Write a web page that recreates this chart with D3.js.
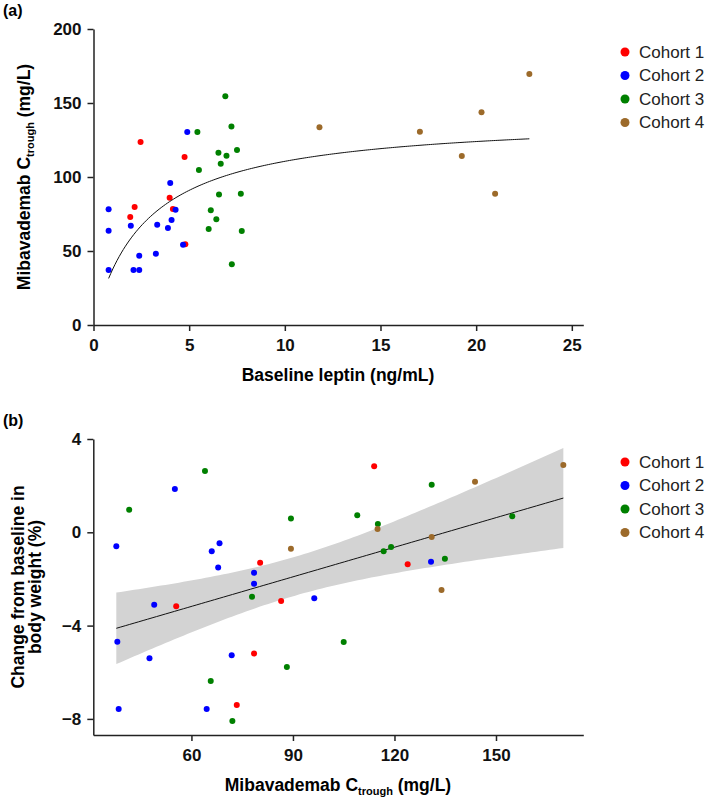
<!DOCTYPE html>
<html>
<head>
<meta charset="utf-8">
<script src="https://cdn.jsdelivr.net/npm/d3@7"></script>
<style>
  body { margin: 0; background: #fff; }
  text { font-family: "Liberation Sans", Arial, sans-serif; }
</style>
</head>
<body>
<div id="chart"></div>
<script>
// ---- data ----
const cohortNames = ["Cohort 1", "Cohort 2", "Cohort 3", "Cohort 4"];
const cohortColors = ["#ff0000", "#0000ff", "#008000", "#9c6a2a"];

// panel (a): baseline leptin (ng/mL) vs Ctrough (mg/L)
const leptinC1 = [2.46, 4.76, 2.15, 1.92, 3.98, 4.15, 4.80];
const ctroughA_C1 = [123.6, 113.5, 79.7, 73.0, 86.0, 78.4, 54.5];
const leptinC2 = [0.79, 0.79, 0.79, 1.95, 2.39, 2.09, 2.39, 3.26, 3.33, 3.89, 4.08, 4.01, 4.29, 4.68, 4.90];
const ctroughA_C2 = [78.2, 63.7, 37.2, 67.1, 46.8, 37.2, 37.2, 48.2, 67.8, 65.5, 70.9, 95.9, 77.9, 54.3, 130.4];
const leptinC3 = [6.89, 5.43, 7.21, 6.53, 6.95, 7.50, 6.65, 5.51, 6.56, 7.70, 6.13, 6.42, 6.02, 7.75, 7.23];
const ctroughA_C3 = [154.5, 130.4, 134.2, 116.4, 114.4, 118.2, 109.0, 104.7, 88.1, 88.7, 77.5, 71.4, 64.9, 63.5, 41.0];
const leptinC4 = [11.81, 17.06, 20.28, 22.78, 19.25, 20.99];
const ctroughA_C4 = [133.6, 130.6, 143.7, 169.6, 114.2, 88.7];

// Emax fit drawn in panel (a)
const emaxFit = { emax: 141, ec50: 2.75 };

// panel (b): Ctrough (mg/L) vs change from baseline in body weight (%)
const ctroughB_C1 = [123.9, 114.0, 80.3, 73.4, 86.5, 78.5, 55.5];
const weightC1 = [-1.37, 2.83, -1.31, -7.40, -2.94, -5.20, -3.17];
const ctroughB_C2 = [55.1, 37.8, 38.1, 38.5, 49.0, 47.6, 66.0, 68.3, 67.9, 71.9, 64.5, 78.5, 78.5, 96.3, 130.8];
const weightC2 = [1.86, -0.60, -4.69, -7.57, -3.11, -5.40, -0.81, -0.47, -1.51, -5.27, -7.57, -1.73, -2.21, -2.83, -1.26];
const ctroughB_C3 = [64.0, 41.6, 77.9, 65.7, 72.1, 89.4, 88.2, 109.0, 115.1, 116.8, 119.0, 131.0, 134.9, 154.8, 105.0];
const weightC3 = [2.63, 0.97, -2.76, -6.37, -8.09, 0.59, -5.77, 0.73, 0.36, -0.81, -0.63, 2.04, -1.13, 0.69, -4.70];
const ctroughB_C4 = [89.4, 115.0, 131.0, 143.8, 133.9, 169.9];
const weightC4 = [-0.71, 0.14, -0.20, 2.17, -2.47, 2.88];

const ticksAx = [0, 5, 10, 15, 20, 25];
const ticksAy = [0, 50, 100, 150, 200];
const ticksBx = [60, 90, 120, 150];
const ticksBy = [-8, -4, 0, 4];

// ---- build ----
const W = 709, H = 803;
const svg = d3.select('#chart').append('svg')
    .attr('width', W)
    .attr('height', H);

const panelA = [
    [leptinC1, ctroughA_C1], [leptinC2, ctroughA_C2],
    [leptinC3, ctroughA_C3], [leptinC4, ctroughA_C4]
];
const panelB = [
    [ctroughB_C1, weightC1], [ctroughB_C2, weightC2],
    [ctroughB_C3, weightC3], [ctroughB_C4, weightC4]
];

function toPoints(pairs) {
    let pts = [];
    pairs.forEach((p, c) => {
        p[0].forEach((x, i) => pts.push({ x: x, y: p[1][i], c: c }));
    });
    return pts;
}

function drawAxes(g, x, y, xt, yt, yBottom, xLeft) {
    const ax = g.append('g')
        .attr('transform', 'translate(0,' + yBottom + ')')
        .call(d3.axisBottom(x).tickValues(xt).tickSize(6).tickSizeOuter(0).tickPadding(8));
    const ay = g.append('g')
        .attr('transform', 'translate(' + xLeft + ',0)')
        .call(d3.axisLeft(y).tickValues(yt).tickSize(6).tickSizeOuter(0).tickPadding(6));
    [ax, ay].forEach(a => {
        a.selectAll('path, line').attr('stroke', '#222').attr('stroke-width', 1.5);
        a.selectAll('text')
            .attr('fill', '#111')
            .attr('font-size', 17)
            .attr('font-weight', 'bold')
            .attr('font-family', '"Liberation Sans", Arial, sans-serif');
    });
}

function drawLegend(g, top) {
    cohortNames.forEach((n, i) => {
        g.append('circle')
            .attr('cx', 625).attr('cy', top + i * 23.5)
            .attr('r', 4.5).attr('fill', cohortColors[i]);
        g.append('text')
            .attr('x', 639).attr('y', top + i * 23.5)
            .attr('dy', '0.35em')
            .attr('font-size', 17)
            .attr('fill', '#222')
            .text(n);
    });
}

function ctroughTitle(t) {
    t.append('tspan').text('Mibavademab C');
    t.append('tspan').attr('font-size', 11).attr('dy', 4).text('trough');
    t.append('tspan').attr('dy', -4).text(' (mg/L)');
}

// ---- panel (a) ----
const xA = d3.scaleLinear().domain([0, 25.6]).range([93.5, 583.3]);
const yA = d3.scaleLinear().domain([0, 200]).range([325, 29]);
const gA = svg.append('g');

gA.append('text').attr('x', 3).attr('y', 16)
    .attr('font-size', 16).attr('font-weight', 'bold').text('(a)');

drawAxes(gA, xA, yA, ticksAx, ticksAy, 325, 93.5);

const ptsA = toPoints(panelA);
gA.selectAll('circle.pt')
    .data(ptsA)
    .enter()
    .append('circle')
    .attr('class', 'pt')
    .attr('cx', d => xA(d.x))
    .attr('cy', d => yA(d.y))
    .attr('r', 3)
    .attr('fill', d => cohortColors[d.c]);

const lepExtent = d3.extent(ptsA, d => d.x);
const curve = d3.range(lepExtent[0], lepExtent[1] + 0.001, (lepExtent[1] - lepExtent[0]) / 200)
    .map(v => [v, emaxFit.emax * v / (emaxFit.ec50 + v)]);
gA.append('path')
    .datum(curve)
    .attr('fill', 'none')
    .attr('stroke', '#111')
    .attr('stroke-width', 1)
    .attr('d', d3.line().x(d => xA(d[0])).y(d => yA(d[1])));

gA.append('text')
    .attr('x', 338).attr('y', 381)
    .attr('text-anchor', 'middle')
    .attr('font-size', 17.5).attr('font-weight', 'bold')
    .text('Baseline leptin (ng/mL)');

const tA = gA.append('text')
    .attr('transform', 'translate(30,177) rotate(-90)')
    .attr('text-anchor', 'middle')
    .attr('font-size', 17.5).attr('font-weight', 'bold');
ctroughTitle(tA);

drawLegend(gA, 52);

// ---- panel (b) ----
const xB = d3.scaleLinear().domain([31, 175.8]).range([93.3, 583.3]);
const yB = d3.scaleLinear().domain([-8.69, 4]).range([735, 439]);
const gB = svg.append('g');

gB.append('text').attr('x', 3).attr('y', 426)
    .attr('font-size', 16).attr('font-weight', 'bold').text('(b)');

const ptsB = toPoints(panelB);

// least-squares fit with 95% confidence band
const n = ptsB.length;
const mx = d3.mean(ptsB, d => d.x), my = d3.mean(ptsB, d => d.y);
const sxx = d3.sum(ptsB, d => (d.x - mx) * (d.x - mx));
const sxy = d3.sum(ptsB, d => (d.x - mx) * (d.y - my));
const slope = sxy / sxx;
const icpt = my - slope * mx;
const sse = d3.sum(ptsB, d => Math.pow(d.y - (icpt + slope * d.x), 2));
const se = Math.sqrt(sse / (n - 2));
const tval = 2.0195;
const bx = d3.extent(ptsB, d => d.x);
const band = d3.range(bx[0], bx[1] + 0.001, (bx[1] - bx[0]) / 100).map(v => {
    const fit = icpt + slope * v;
    const h = tval * se * Math.sqrt(1 / n + (v - mx) * (v - mx) / sxx);
    return { x: v, fit: fit, lo: fit - h, hi: fit + h };
});
console.log('fit', slope, icpt);

gB.append('path')
    .datum(band)
    .attr('fill', '#d3d3d3')
    .attr('d', d3.area().x(d => xB(d.x)).y0(d => yB(d.lo)).y1(d => yB(d.hi)));

gB.append('path')
    .datum(band)
    .attr('fill', 'none')
    .attr('stroke', '#111')
    .attr('stroke-width', 1)
    .attr('d', d3.line().x(d => xB(d.x)).y(d => yB(d.fit)));

drawAxes(gB, xB, yB, ticksBx, ticksBy, 735, 93.3);

gB.selectAll('circle.pt')
    .data(ptsB)
    .enter()
    .append('circle')
    .attr('class', 'pt')
    .attr('cx', d => xB(d.x))
    .attr('cy', d => yB(d.y))
    .attr('r', 3)
    .attr('fill', d => cohortColors[d.c]);

const tB = gB.append('text')
    .attr('x', 338).attr('y', 791)
    .attr('text-anchor', 'middle')
    .attr('font-size', 17.5).attr('font-weight', 'bold');
ctroughTitle(tB);

const yTitleB = gB.append('text')
    .attr('transform', 'translate(24,587) rotate(-90)')
    .attr('text-anchor', 'middle')
    .attr('font-size', 17.5).attr('font-weight', 'bold');
yTitleB.append('tspan').attr('x', 0).attr('dy', 0).text('Change from baseline in');
yTitleB.append('tspan').attr('x', 0).attr('dy', 17).text('body weight (%)');

drawLegend(gB, 462);
</script>
</body>
</html>
